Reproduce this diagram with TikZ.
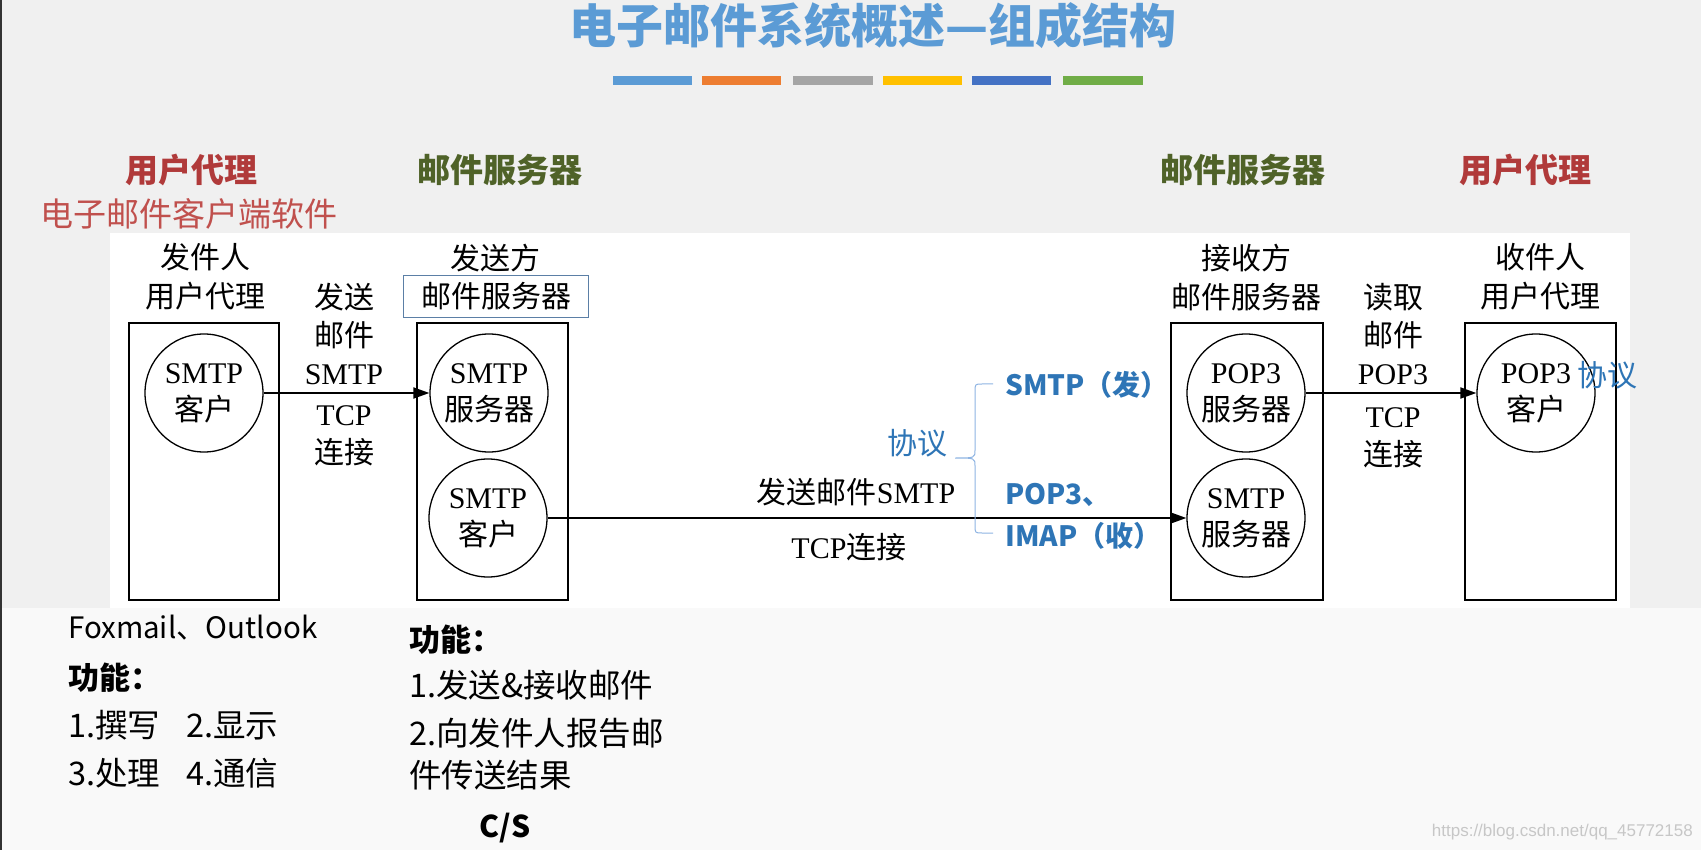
\documentclass[tikz,border=0pt]{standalone}
\usepackage{fontspec}
\setmainfont{Liberation Serif}
\newfontfamily\cjk{Noto Sans CJK SC}
\newfontfamily\wmfont{Liberation Sans}
\usetikzlibrary{arrows.meta}
\definecolor{bgc}{HTML}{F0F0F0}
\definecolor{lowbg}{HTML}{F9F9F9}
\definecolor{titleblue}{HTML}{5B9BD5}
\definecolor{barA}{HTML}{5B9BD5}
\definecolor{barB}{HTML}{ED7D31}
\definecolor{barC}{HTML}{A5A5A5}
\definecolor{barD}{HTML}{FFC000}
\definecolor{barE}{HTML}{4472C4}
\definecolor{barF}{HTML}{70AD47}
\definecolor{hred}{HTML}{B03A3A}
\definecolor{lred}{HTML}{C0504D}
\definecolor{hgreen}{HTML}{4F6228}
\definecolor{pblue}{HTML}{2E75B6}
\definecolor{braceblue}{HTML}{8EB4E3}
\definecolor{framblue}{HTML}{5B7FA6}
\tikzset{
  heading/.style={font=\cjk\bfseries\fontsize{33}{38}\selectfont, inner sep=0},
  lbl/.style={font=\fontsize{30}{39}\selectfont, align=center, inner sep=0},
  circ/.style={circle, draw, line width=1.3pt, minimum size=118pt, inner sep=0,
               align=center, font=\fontsize{30}{37}\selectfont},
  ubox/.style={draw, line width=2.6pt, inner sep=0, minimum height=277pt},
  arr/.style={line width=1.8pt, -{Triangle[length=16pt,width=11pt]}},
  proto/.style={font=\cjk\bfseries\fontsize{28}{32}\selectfont, text=pblue, inner sep=0, anchor=west},
  note/.style={font=\cjk\fontsize{32.5}{38}\selectfont, inner sep=0, anchor=west},
  notebold/.style={note, font=\cjk\bfseries\fontsize{31}{36}\selectfont},
}
\begin{document}
\begin{tikzpicture}[x=1pt,y=-1pt]
\useasboundingbox (0,0) rectangle (1701,850);
\fill[bgc] (0,0) rectangle (1701,850);
\fill[lowbg] (0,608) rectangle (1701,850);
\fill[white] (110,233) rectangle (1630,608);
\fill[black!80] (0,0) rectangle (2,850);

% title and colour bars
\node[font=\cjk\bfseries\fontsize{47}{50}\selectfont, text=titleblue, inner sep=0] (title) at (873,26) {电子邮件系统概述—组成结构};
\fill[barA] (613,76) rectangle (692,85);
\fill[barB] (702,76) rectangle (781,85);
\fill[barC] (793,76) rectangle (873,85);
\fill[barD] (883,76) rectangle (962,85);
\fill[barE] (972,76) rectangle (1051,85);
\fill[barF] (1063,76) rectangle (1143,85);

% headings
\node[heading, text=hred] (ua1) at (191,170) {用户代理};
\node[font=\cjk\fontsize{33}{38}\selectfont, text=lred, inner sep=0] (eclient) at (189,214) {电子邮件客户端软件};
\node[heading, text=hgreen] (ms1) at (500,170) {邮件服务器};
\node[heading, text=hgreen] (ms2) at (1243,170) {邮件服务器};
\node[heading, text=hred] (ua2) at (1525,170) {用户代理};

% boxes
\node[ubox, minimum width=150pt] (b1) at (204,461.5) {};
\node[ubox, minimum width=151pt] (b2) at (492.5,461.5) {};
\node[ubox, minimum width=152pt] (b3) at (1247,461.5) {};
\node[ubox, minimum width=151pt] (b4) at (1540.5,461.5) {};

% circles
\node[circ] (c1) at (204,393) {SMTP\\{\cjk 客户}};
\node[circ] (c2) at (489,393) {SMTP\\{\cjk 服务器}};
\node[circ] (c3) at (488,518) {SMTP\\{\cjk 客户}};
\node[circ] (c4) at (1246,393) {POP3\\{\cjk 服务器}};
\node[circ] (c5) at (1246,518) {SMTP\\{\cjk 服务器}};
\node[circ] (c6) at (1536,393) {POP3\\{\cjk 客户}};

% arrows
\draw[arr] (c1.east) -- (c2.west);
\draw[arr] (c3.east) -- (c5.west);
\draw[arr] (c4.east) -- (c6.west);

% labels above boxes
\node[lbl] (l1) at (205,277) {{\cjk 发件人}\\{\cjk 用户代理}};
\node[lbl] (l2a) at (495,258) {\cjk 发送方};
\node[lbl, draw=framblue, line width=0.8pt, minimum width=185pt, minimum height=42pt] (l2b) at (496,296) {\cjk 邮件服务器};
\node[lbl] (l3) at (1246,278) {{\cjk 接收方}\\{\cjk 邮件服务器}};
\node[lbl] (l4) at (1540,277) {{\cjk 收件人}\\{\cjk 用户代理}};

% labels between boxes
\node[lbl, font=\fontsize{30}{38}\selectfont] (s1) at (344,334) {{\cjk 发送}\\{\cjk 邮件}\\SMTP};
\node[lbl, font=\fontsize{30}{38}\selectfont] (s2) at (344,436) {TCP\\{\cjk 连接}};
\node[lbl, font=\fontsize{30}{38}\selectfont] (r1) at (1393,334) {{\cjk 读取}\\{\cjk 邮件}\\POP3};
\node[lbl, font=\fontsize{30}{38}\selectfont] (r2) at (1393,438) {TCP\\{\cjk 连接}};
\node[lbl] (t1) at (856,492) {{\cjk 发送邮件}SMTP};
\node[lbl] (t2) at (849,547) {TCP{\cjk 连接}};

% protocol annotations
\node[font=\cjk\fontsize{30}{34}\selectfont, text=pblue, inner sep=0] (p0) at (1607,375) {协议};
\node[font=\cjk\fontsize{30}{34}\selectfont, text=pblue, inner sep=0] (pk) at (917,443) {协议};
\draw[braceblue, line width=1pt] (993,384) -- (982,384) .. controls (975,384) .. (975,392) -- (975,450)
  .. controls (975,458) .. (955,458) .. controls (975,458) .. (975,466) -- (975,525)
  .. controls (975,533) .. (982,533) -- (993,533);
\node[proto] (p1) at (1005,385) {SMTP（发）};
\node[proto] (p2) at (1005,495) {POP3、};
\node[proto] (p3) at (1005,536) {IMAP（收）};

% bottom notes
\node[note, font=\cjk\fontsize{29.5}{36}\selectfont] (n1) at (68,628) {Foxmail、Outlook};
\node[notebold] (n2) at (68,678) {功能：};
\node[note] (n3) at (68,725) {1.撰写\hspace{26pt}2.显示};
\node[note] (n4) at (68,773) {3.处理\hspace{26pt}4.通信};
\node[notebold] (m1) at (409,640) {功能：};
\node[note] (m2) at (409,685) {1.发送\&接收邮件};
\node[note] (m3) at (409,733) {2.向发件人报告邮};
\node[note] (m4) at (409,775) {件传送结果};
\node[font=\cjk\bfseries\fontsize{30}{36}\selectfont, inner sep=0] (cs) at (505,828) {C/S};
\node[font=\wmfont\fontsize{17}{20}\selectfont, text=black!22, inner sep=0, anchor=east] (wm) at (1693,832) {https://blog.csdn.net/qq\_45772158};
\end{tikzpicture}
\end{document}
